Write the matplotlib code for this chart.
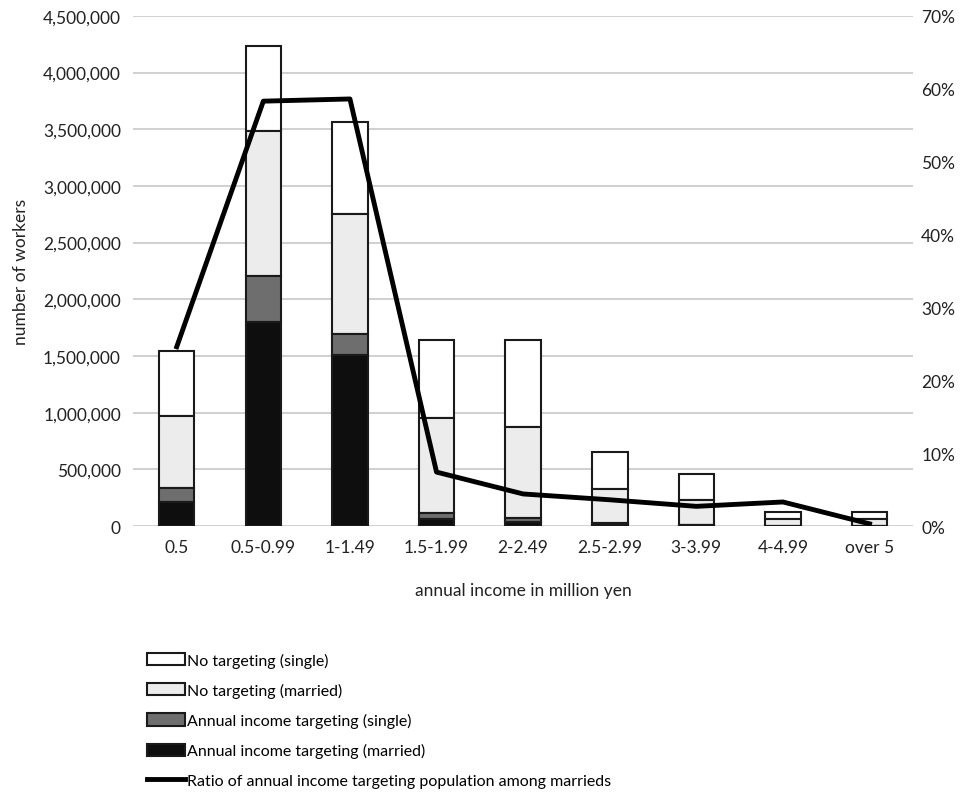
import matplotlib
matplotlib.use("Agg")
import matplotlib.pyplot as plt
from matplotlib.ticker import FuncFormatter, MultipleLocator
import numpy as np

plt.rcParams['font.family'] = ['Lato', 'DejaVu Sans']

categories = ["0.5", "0.5-0.99", "1-1.49", "1.5-1.99", "2-2.49", "2.5-2.99", "3-3.99", "4-4.99", "over 5"]
target_married = [210000, 1800000, 1510000, 65000, 35000, 15000, 5000, 2000, 1000]
target_single = [125000, 405000, 185000, 50000, 35000, 8000, 3000, 1000, 1000]
notarget_married = [635000, 1280000, 1060000, 840000, 800000, 305000, 222000, 60000, 58000]
notarget_single = [575000, 750000, 810000, 690000, 770000, 327000, 230000, 60000, 60000]
ratio_married = [24.6, 58.3, 58.6, 7.4, 4.4, 3.6, 2.7, 3.3, 0.3]

labels = ["No targeting (single)", "No targeting (married)",
          "Annual income targeting (single)", "Annual income targeting (married)",
          "Ratio of annual income targeting population among marrieds"]

fig = plt.figure(figsize=(9.67, 8.04), dpi=100)
ax = fig.add_axes([0.138, 0.3445, 0.806, 0.6345])
x = np.arange(len(categories))
w = 0.41
ec = "#1a1a1a"
lw = 1.5
b1 = np.array(target_married)
b2 = b1 + np.array(target_single)
b3 = b2 + np.array(notarget_married)
h4 = ax.bar(x, notarget_single, w, bottom=b3, color="white", edgecolor=ec, linewidth=lw, zorder=3)
h3 = ax.bar(x, notarget_married, w, bottom=b2, color="#ececec", edgecolor=ec, linewidth=lw, zorder=3)
h2 = ax.bar(x, target_single, w, bottom=b1, color="#6e6e6e", edgecolor=ec, linewidth=lw, zorder=3)
h1 = ax.bar(x, target_married, w, color="#0e0e0e", edgecolor=ec, linewidth=lw, zorder=3)

ax.set_xlim(-0.5, len(categories) - 0.5)
ax.set_ylim(0, 4500000)
ax.yaxis.set_major_locator(MultipleLocator(500000))
ax.yaxis.set_major_formatter(FuncFormatter(lambda v, p: f"{int(v):,}"))
ax.grid(axis="y", color="#c8c8c8", linewidth=1.2, zorder=0)
ax.set_axisbelow(True)
for s in ax.spines.values():
    s.set_visible(False)
ax.tick_params(length=0, labelsize=12.5, colors="#222222", pad=9)
ax.set_xticks(x)
ax.set_xticklabels(categories)
ax.set_ylabel("number of workers", fontsize=12.5, color="#222222", labelpad=10)
ax.set_xlabel("annual income in million yen", fontsize=12.5, color="#222222", labelpad=20)

ax2 = ax.twinx()
ax2.set_ylim(0, 70)
ax2.yaxis.set_major_locator(MultipleLocator(10))
ax2.yaxis.set_major_formatter(FuncFormatter(lambda v, p: f"{int(v)}%"))
for s in ax2.spines.values():
    s.set_visible(False)
ax2.tick_params(length=0, labelsize=12.5, colors="#222222", pad=6)
l1, = ax2.plot(x, ratio_married, color="black", linewidth=3.5, zorder=5)

fig.legend([h4, h3, h2, h1, l1], labels, loc="upper left", bbox_to_anchor=(0.145, 0.195),
           frameon=False, fontsize=11.5, handlelength=2.4, handleheight=0.8,
           handletextpad=0.1, labelspacing=0.95, borderaxespad=0)

fig.savefig("out.png", dpi=100)
